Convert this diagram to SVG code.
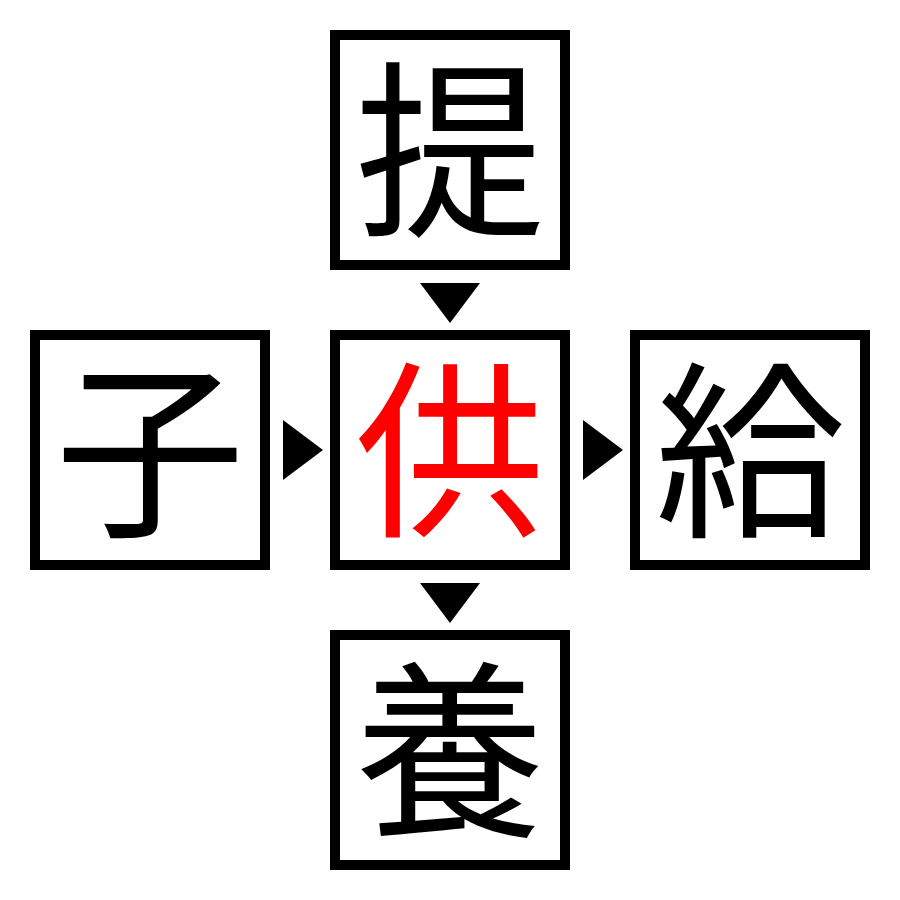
<svg xmlns="http://www.w3.org/2000/svg" width="900" height="900" viewBox="0 0 900 900">
<style>
.box{fill:#fff;stroke:#000;stroke-width:10}
.t{font-family:"Noto Sans CJK JP","Noto Sans CJK SC",sans-serif;font-size:190px;text-anchor:middle;fill:#000}
.red{fill:#f00}
.arr{fill:#000}
</style>
<rect width="900" height="900" fill="#fff"/>
<g id="top"><rect class="box" x="335" y="35" width="230" height="230"/><text class="t" x="450" y="222">提</text></g>
<g id="left"><rect class="box" x="35" y="335" width="230" height="230"/><text class="t" x="150" y="522">子</text></g>
<g id="center"><rect class="box" x="335" y="335" width="230" height="230"/><text class="t red" x="450" y="522">供</text></g>
<g id="right"><rect class="box" x="635" y="335" width="230" height="230"/><text class="t" x="750" y="522">給</text></g>
<g id="bottom"><rect class="box" x="335" y="635" width="230" height="230"/><text class="t" x="450" y="822">養</text></g>
<g id="connectors">
<polygon class="arr" points="420,283 480,283 450,323"/>
<polygon class="arr" points="420,583 480,583 450,623"/>
<polygon class="arr" points="283,420 283,480 323,450"/>
<polygon class="arr" points="583,420 583,480 623,450"/>
</g>
</svg>
